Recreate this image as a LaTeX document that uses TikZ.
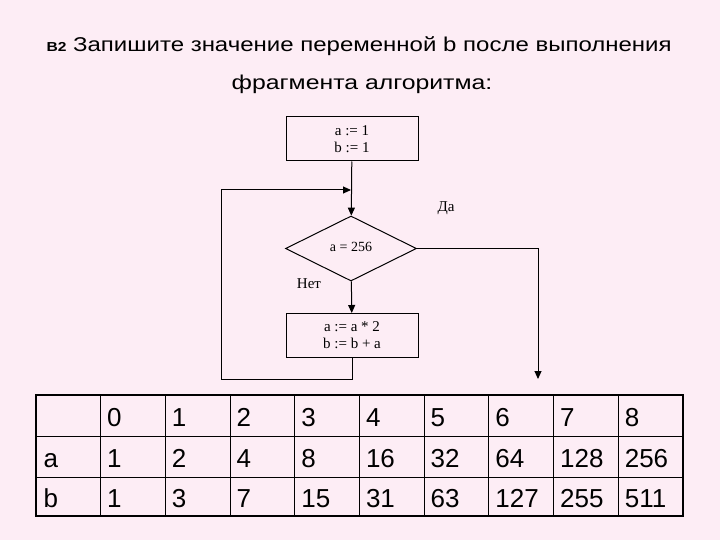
\documentclass[tikz,border=0pt]{standalone}
\usepackage{fontspec}
\setmainfont{Liberation Serif}
\setsansfont{Liberation Sans}
\usetikzlibrary{shapes.geometric,arrows.meta,positioning}
\definecolor{slidebg}{RGB}{253,237,245}
\tikzset{>={Triangle[length=8pt,width=7pt]}}
\tikzset{
  opbox/.style={draw, minimum width=132pt, minimum height=44pt, inner sep=0pt,
    align=center, font=\fontsize{15}{17}\selectfont},
  cond/.style={draw, diamond, minimum width=131pt, minimum height=65pt,
    inner sep=0pt, font=\fontsize{14}{14}\selectfont},
  lbl/.style={inner sep=0pt, font=\fontsize{15}{15}\selectfont},
  cell/.style={anchor=base west, inner sep=0pt,
    font=\sffamily\fontsize{26}{26}\selectfont},
  task/.style={inner sep=0pt, font=\sffamily\fontsize{20}{20}\selectfont},
}

\begin{document}
\begin{tikzpicture}[x=1pt, y=-1pt, line width=1pt]
  \fill[slidebg] (0,0) rectangle (720,540);
  % task text
  \node[task, anchor=base west] (task) at (46,52)
    {\scalebox{1.2}[1]{{\bfseries\fontsize{13}{13}\selectfont B2} Запишите значение переменной b после выполнения}};
  \node[task, anchor=base] (task2) at (362,90)
    {\scalebox{1.24}[1]{фрагмента алгоритма:}};
  % flowchart
  \node[opbox] (init) at (352,139) {a := 1\\ b := 1};
  \node[cond] (check) at (351,248.5) {\raisebox{3pt}{a = 256}};
  \node[opbox] (step) at (352,335.5) {a := a * 2\\ b := b + a};
  \node[lbl] (yes) at (446,208) {Да};
  \node[lbl] (no) at (309,284) {Нет};
  \coordinate (join) at (351,190);
  \coordinate (back) at (221,379);
  \coordinate (exit) at (538,379);
  \draw[->] (init) -- (check);
  \draw[->] (check) -- (step);
  \draw[->] (step.south) |- (back) |- (join);
  \draw[->] (check.east) -| (exit);
  % table
  \draw[line width=2pt] (36,395) rectangle (683,516);
  \foreach \i in {1,...,9}
    \draw ({36+64.7*\i},395) -- ({36+64.7*\i},516);
  \foreach \y in {436,477}
    \draw (36,\y) -- (683,\y);
  \node[cell] (ra) at (43,467) {a};
  \node[cell] (rb) at (43,507) {b};
  \foreach \v [count=\c] in {0,1,2,3,4,5,6,7,8}
    \node[cell] (n\c) at ({42+64.7*\c},426) {\v};
  \foreach \v [count=\c] in {1,2,4,8,16,32,64,128,256}
    \node[cell] (a\c) at ({42+64.7*\c},467) {\v};
  \foreach \v [count=\c] in {1,3,7,15,31,63,127,255,511}
    \node[cell] (b\c) at ({42+64.7*\c},507) {\v};
\end{tikzpicture}
\end{document}
